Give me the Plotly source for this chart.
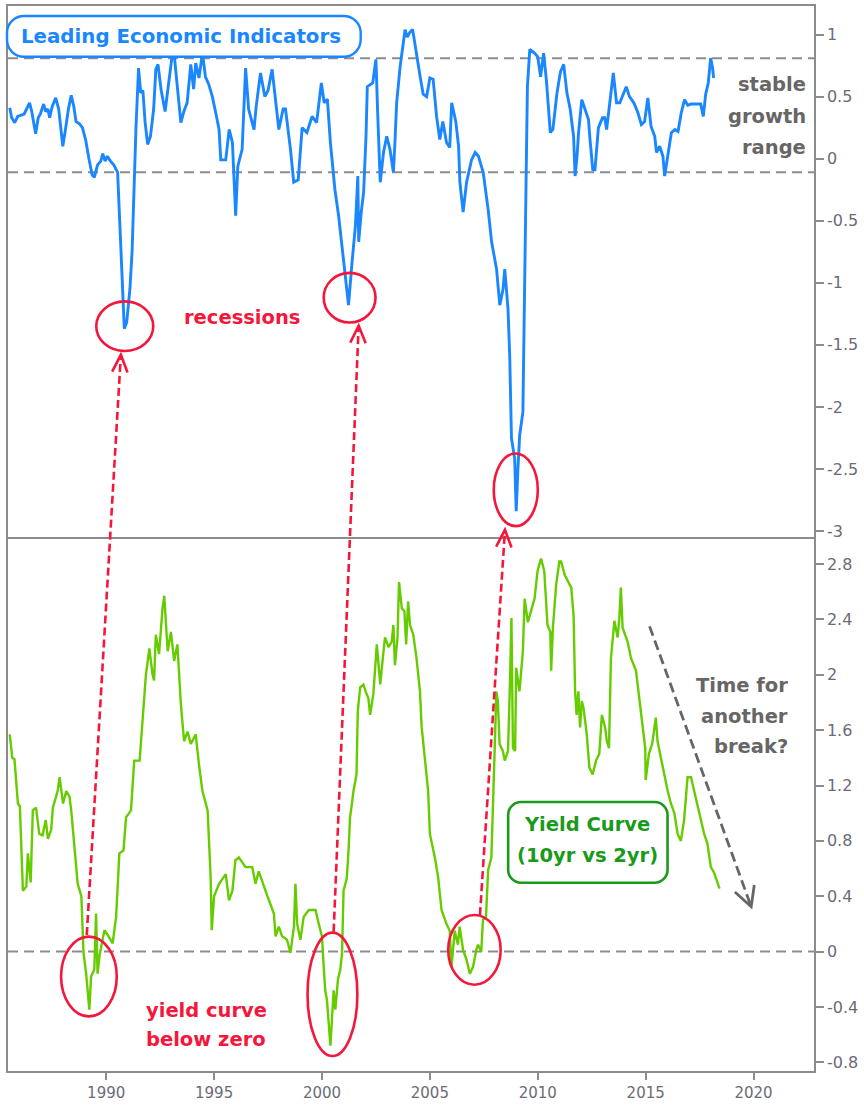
import numpy as np
import plotly.graph_objects as go

# ---------------- data ----------------
lei_years = [1985.53, 1985.62, 1985.76, 1985.9, 1986.2, 1986.45, 1986.55, 1986.73, 1986.85, 1986.95,
             1987.1, 1987.2, 1987.3, 1987.38, 1987.5, 1987.66, 1987.8, 1987.99, 1988.1, 1988.25,
             1988.38, 1988.5, 1988.6, 1988.76, 1988.9, 1989.05, 1989.2, 1989.35, 1989.45, 1989.6,
             1989.75, 1989.84, 1989.95, 1990.05, 1990.2, 1990.35, 1990.53, 1990.6, 1990.69, 1990.8,
             1990.84, 1990.95, 1991.1, 1991.2, 1991.3, 1991.38, 1991.5, 1991.6, 1991.7, 1991.8,
             1991.92, 1992.05, 1992.2, 1992.3, 1992.4, 1992.55, 1992.73, 1992.9, 1993.07, 1993.15,
             1993.3, 1993.46, 1993.6, 1993.75, 1993.92, 1994.05, 1994.15, 1994.3, 1994.46, 1994.6,
             1994.75, 1994.92, 1995.1, 1995.23, 1995.31, 1995.54, 1995.7, 1995.85, 1996.0, 1996.1,
             1996.3, 1996.46, 1996.6, 1996.85, 1996.95, 1997.15, 1997.35, 1997.5, 1997.69, 1997.92,
             1998.0, 1998.2, 1998.31, 1998.54, 1998.69, 1998.9, 1999.08, 1999.3, 1999.54, 1999.75,
             1999.97, 2000.1, 2000.25, 2000.39, 2000.54, 2000.6, 2000.77, 2000.93, 2001.08, 2001.23,
             2001.39, 2001.55, 2001.66, 2001.7, 2001.82, 2001.93, 2002.04, 2002.1, 2002.35, 2002.5,
             2002.58, 2002.7, 2002.85, 2003.0, 2003.15, 2003.31, 2003.38, 2003.46, 2003.62, 2003.85,
             2003.95, 2004.08, 2004.2, 2004.39, 2004.55, 2004.69, 2004.85, 2005.0, 2005.15, 2005.31,
             2005.46, 2005.6, 2005.77, 2005.92, 2006.01, 2006.2, 2006.33, 2006.39, 2006.54, 2006.7,
             2006.93, 2007.1, 2007.25, 2007.47, 2007.7, 2007.86, 2008.09, 2008.24, 2008.39, 2008.47,
             2008.62, 2008.7, 2008.78, 2008.93, 2009.0, 2009.08, 2009.16, 2009.31, 2009.36, 2009.42,
             2009.47, 2009.52, 2009.63, 2009.85, 2010.0, 2010.13, 2010.27, 2010.4, 2010.58, 2010.7,
             2010.89, 2011.05, 2011.2, 2011.35, 2011.5, 2011.66, 2011.73, 2011.82, 2011.89, 2012.04,
             2012.2, 2012.35, 2012.42, 2012.55, 2012.65, 2012.81, 2013.0, 2013.1, 2013.19, 2013.35,
             2013.5, 2013.65, 2013.8, 2014.1, 2014.25, 2014.45, 2014.64, 2014.8, 2014.95, 2015.1,
             2015.25, 2015.42, 2015.5, 2015.65, 2015.8, 2015.88, 2016.03, 2016.19, 2016.35, 2016.5,
             2016.65, 2016.8, 2016.95, 2017.1, 2017.3, 2017.55, 2017.67, 2017.78, 2017.9, 2018.01,
             2018.1, 2018.15]
lei_values = [0.41, 0.33, 0.29, 0.34, 0.36, 0.45, 0.38, 0.20, 0.33, 0.36,
              0.44, 0.38, 0.40, 0.33, 0.42, 0.49, 0.40, 0.10, 0.22, 0.40,
              0.51, 0.42, 0.30, 0.28, 0.25, 0.15, 0.00, -0.13, -0.15, -0.05,
              -0.02, 0.04, -0.02, 0.02, -0.02, -0.05, -0.11, -0.41, -0.73, -1.20,
              -1.37, -1.32, -1.05, -0.75, -0.19, 0.25, 0.73, 0.53, 0.55, 0.30,
              0.115, 0.18, 0.40, 0.72, 0.76, 0.55, 0.38, 0.61, 0.85, 0.84,
              0.55, 0.29, 0.38, 0.45, 0.76, 0.56, 0.77, 0.65, 0.85, 0.66,
              0.60, 0.50, 0.35, 0.235, -0.01, -0.01, 0.235, 0.13, -0.46, -0.06,
              0.075, 0.73, 0.40, 0.235, 0.42, 0.69, 0.50, 0.55, 0.72, 0.37,
              0.235, 0.40, 0.40, 0.075, -0.19, -0.17, 0.25, 0.21, 0.34, 0.29,
              0.61, 0.45, 0.48, 0.13, -0.14, -0.25, -0.46, -0.73, -0.94, -1.18,
              -0.84, -0.54, -0.14, -0.67, -0.43, -0.27, 0.18, 0.58, 0.61, 0.80,
              0.37, -0.19, 0.05, 0.18, 0.075, -0.11, 0.13, 0.45, 0.74, 1.04,
              0.98, 1.02, 1.04, 0.82, 0.66, 0.52, 0.50, 0.65, 0.64, 0.34,
              0.155, 0.30, 0.13, 0.09, 0.45, 0.30, 0.10, -0.19, -0.43, -0.19,
              -0.01, 0.05, 0.02, -0.11, -0.41, -0.67, -0.89, -1.18, -1.05, -0.89,
              -1.21, -1.59, -2.25, -2.42, -2.84, -2.50, -2.23, -2.04, -1.26, -0.62,
              -0.03, 0.58, 0.88, 0.85, 0.82, 0.66, 0.85, 0.63, 0.21, 0.235,
              0.53, 0.70, 0.76, 0.53, 0.40, 0.18, -0.14, 0.02, 0.21, 0.475,
              0.39, 0.315, 0.155, -0.09, -0.09, 0.25, 0.33, 0.33, 0.235, 0.475,
              0.69, 0.45, 0.45, 0.58, 0.50, 0.45, 0.37, 0.275, 0.30, 0.49,
              0.26, 0.18, 0.05, 0.10, 0.02, -0.14, 0.05, 0.21, 0.235, 0.22,
              0.37, 0.475, 0.43, 0.44, 0.44, 0.44, 0.34, 0.52, 0.61, 0.81,
              0.73, 0.65]

yc_years = [1985.53, 1985.65, 1985.75, 1985.91, 1986.0, 1986.14, 1986.3, 1986.37, 1986.5, 1986.6,
            1986.75, 1986.9, 1987.05, 1987.2, 1987.3, 1987.45, 1987.53, 1987.75, 1987.84, 1988.0,
            1988.15, 1988.3, 1988.38, 1988.53, 1988.68, 1988.85, 1988.95, 1989.07, 1989.22, 1989.3,
            1989.45, 1989.53, 1989.6, 1989.7, 1989.92, 1990.07, 1990.3, 1990.46, 1990.61, 1990.8,
            1990.92, 1991.15, 1991.3, 1991.55, 1991.69, 1991.84, 1992.0, 1992.15, 1992.22, 1992.3,
            1992.45, 1992.61, 1992.69, 1992.85, 1993.0, 1993.15, 1993.3, 1993.46, 1993.61, 1993.77,
            1993.92, 1994.15, 1994.3, 1994.46, 1994.7, 1994.84, 1994.89, 1995.0, 1995.23, 1995.54,
            1995.69, 1995.85, 1995.99, 1996.15, 1996.46, 1996.77, 1996.92, 1997.07, 1997.38, 1997.6,
            1997.77, 1997.85, 1998.0, 1998.15, 1998.38, 1998.54, 1998.7, 1998.77, 1998.85, 1999.0,
            1999.15, 1999.39, 1999.7, 1999.85, 2000.0, 2000.08, 2000.15, 2000.23, 2000.31, 2000.39,
            2000.47, 2000.54, 2000.62, 2000.74, 2000.85, 2000.93, 2001.0, 2001.15, 2001.23, 2001.3,
            2001.38, 2001.46, 2001.6, 2001.66, 2001.77, 2001.92, 2002.02, 2002.15, 2002.23, 2002.38,
            2002.54, 2002.7, 2002.85, 2002.92, 2003.08, 2003.23, 2003.31, 2003.38, 2003.5, 2003.57,
            2003.7, 2003.82, 2003.9, 2003.99, 2004.08, 2004.23, 2004.38, 2004.54, 2004.62, 2004.77,
            2004.92, 2005.0, 2005.23, 2005.38, 2005.54, 2005.77, 2005.92, 2006.0, 2006.15, 2006.3,
            2006.38, 2006.54, 2006.7, 2006.85, 2007.0, 2007.15, 2007.23, 2007.38, 2007.46, 2007.6,
            2007.7, 2007.85, 2007.93, 2008.01, 2008.08, 2008.15, 2008.23, 2008.38, 2008.47, 2008.62,
            2008.7, 2008.78, 2008.85, 2008.95, 2009.0, 2009.15, 2009.31, 2009.39, 2009.54, 2009.7,
            2009.85, 2009.99, 2010.15, 2010.3, 2010.45, 2010.58, 2010.62, 2010.7, 2010.85, 2011.0,
            2011.08, 2011.25, 2011.4, 2011.55, 2011.66, 2011.73, 2011.8, 2011.88, 2011.96, 2012.04,
            2012.12, 2012.27, 2012.39, 2012.54, 2012.7, 2012.85, 2012.97, 2013.12, 2013.2, 2013.3,
            2013.39, 2013.55, 2013.7, 2013.78, 2013.85, 2013.93, 2014.16, 2014.32, 2014.55, 2014.7,
            2014.85, 2014.98, 2015.0, 2015.15, 2015.3, 2015.47, 2015.55, 2015.7, 2015.87, 2016.02,
            2016.17, 2016.33, 2016.48, 2016.63, 2016.78, 2016.94, 2017.1, 2017.25, 2017.4, 2017.55,
            2017.71, 2017.86, 2018.02, 2018.17, 2018.32, 2018.42]
yc_values = [1.57, 1.40, 1.39, 1.07, 1.05, 0.44, 0.47, 0.71, 0.50, 1.02,
             1.04, 0.85, 0.84, 0.95, 0.815, 0.88, 1.04, 1.16, 1.26, 1.07,
             1.16, 1.12, 1.02, 0.73, 0.49, 0.40, -0.01, -0.16, -0.42, -0.18,
             -0.13, 0.275, -0.16, -0.02, 0.155, 0.12, 0.06, 0.25, 0.71, 0.73,
             0.97, 1.02, 1.38, 1.38, 1.69, 2.00, 2.19, 2.00, 1.96, 2.29,
             2.15, 2.48, 2.57, 2.17, 2.31, 2.10, 2.22, 1.79, 1.52, 1.59,
             1.50, 1.57, 1.35, 1.16, 1.02, 0.54, 0.155, 0.40, 0.49, 0.56,
             0.37, 0.44, 0.66, 0.68, 0.61, 0.61, 0.49, 0.58, 0.44, 0.35,
             0.275, 0.11, 0.18, 0.11, 0.085, -0.01, 0.18, 0.49, 0.20, 0.085,
             0.25, 0.30, 0.30, 0.20, 0.11, -0.11, -0.28, -0.35, -0.49, -0.68,
             -0.47, -0.28, -0.42, -0.20, -0.13, -0.01, 0.44, 0.53, 0.73, 0.97,
             1.06, 1.16, 1.28, 1.74, 1.91, 1.93, 1.88, 1.83, 1.71, 1.86,
             2.22, 1.93, 2.17, 2.27, 2.20, 2.24, 2.36, 2.07, 2.27, 2.67,
             2.48, 2.46, 2.22, 2.53, 2.36, 2.29, 2.12, 1.88, 1.62, 1.40,
             1.16, 0.85, 0.68, 0.54, 0.30, 0.20, 0.15, -0.11, 0.15, 0.05,
             0.18, 0.01, -0.06, -0.16, -0.11, 0.01, 0.05, 0.00, 0.23, 0.25,
             0.59, 0.68, 1.02, 1.50, 1.88, 1.81, 1.50, 1.45, 1.38, 1.45,
             1.88, 2.41, 1.47, 1.45, 2.05, 1.88, 2.17, 2.55, 2.38, 2.46,
             2.55, 2.75, 2.84, 2.75, 2.36, 2.31, 2.03, 2.34, 2.65, 2.82,
             2.82, 2.72, 2.67, 2.63, 2.43, 1.88, 1.71, 1.88, 1.62, 1.81,
             1.76, 1.57, 1.33, 1.28, 1.38, 1.43, 1.71, 1.62, 1.52, 1.47,
             2.12, 2.39, 2.27, 2.41, 2.63, 2.34, 2.24, 2.12, 2.03, 1.83,
             1.67, 1.47, 1.24, 1.43, 1.50, 1.69, 1.52, 1.40, 1.26, 1.16,
             1.07, 1.00, 0.85, 0.80, 0.95, 1.26, 1.26, 1.16, 1.04, 0.95,
             0.85, 0.78, 0.61, 0.57, 0.49, 0.455]

x_tick_vals = [1990, 1995, 2000, 2005, 2010, 2015, 2020]
x_tick_text = ["1990", "1995", "2000", "2005", "2010", "2015", "2020"]
top_tick_vals = [-3, -2.5, -2, -1.5, -1, -0.5, 0, 0.5, 1]
top_tick_text = ["-3", "-2.5", "-2", "-1.5", "-1", "-0.5", "0", "0.5", "1"]
bot_tick_vals = [-0.8, -0.4, 0, 0.4, 0.8, 1.2, 1.6, 2.0, 2.4, 2.8]
bot_tick_text = ["-0.8", "-0.4", "0", "0.4", "0.8", "1.2", "1.6", "2", "2.4", "2.8"]
stable_band = [0.81, -0.11]   # stable growth range bounds (LEI)
yc_zero = 0.0

# recession troughs (LEI) and inversions (yield curve): (year0, year1, v0, v1)
lei_circles = [(1989.54, 1992.18, -1.15, -1.55), (2000.08, 2002.48, -0.92, -1.32),
               (2007.96, 2010.0, -2.375, -2.96)]
yc_circles = [(1987.91, 1990.49, 0.108, -0.468), (1999.33, 2001.64, 0.137, -0.755),
              (2005.85, 2008.28, 0.264, -0.24)]
# arrows from inversion (year, yc) to recession (year, lei)
red_arrows = [((1989.10, 0.12), (1990.68, -1.58)),
              ((2000.54, 0.144), (2001.70, -1.345)),
              ((2007.32, 0.264), (2008.48, -2.99))]
gray_arrow = ((2015.18, 2.35), (2019.89, 0.324))

# ---------------- layout geometry ----------------
W, H = 864, 1108
ML, MR, MT, MB = 8, 47, 6, 33
PW, PH = W - ML - MR, H - MT - MB
XR = [1985.45, 2022.8]
YT = [-3.06, 1.23]
YB = [-0.863, 2.985]

BLUE = "#1a86ff"
GREEN = "#66cc00"
RED = "#f5173b"
GRAY = "#666666"
TICKGRAY = "#6b6b78"
AXGRAY = "#8c8c8c"
DGREEN = "#1a9a1a"


def xp(year):
    return (year - XR[0]) / (XR[1] - XR[0])


def ytp(v):
    return 0.5 + 0.5 * (v - YT[0]) / (YT[1] - YT[0])


def ybp(v):
    return 0.5 * (v - YB[0]) / (YB[1] - YB[0])


def to_px(x, y):
    return ML + x * PW, MT + (1 - y) * PH


def to_paper(px, py):
    return (px - ML) / PW, (MT + PH - py) / PH


fig = go.Figure()
fig.add_trace(go.Scatter(x=lei_years, y=lei_values, mode="lines", xaxis="x2", yaxis="y2",
                         line=dict(color=BLUE, width=2.9), hoverinfo="skip"))
fig.add_trace(go.Scatter(x=yc_years, y=yc_values, mode="lines", xaxis="x", yaxis="y",
                         line=dict(color=GREEN, width=2.4), hoverinfo="skip"))
# last-value diamonds on the right axis
fig.add_trace(go.Scatter(x=[XR[1] + 0.37], y=[lei_values[-1]], mode="markers", xaxis="x2", yaxis="y2",
                         marker=dict(symbol="diamond", size=11, color=BLUE), cliponaxis=False,
                         hoverinfo="skip"))
fig.add_trace(go.Scatter(x=[XR[1] + 0.37], y=[yc_values[-1]], mode="markers", xaxis="x", yaxis="y",
                         marker=dict(symbol="diamond", size=11, color=GREEN), cliponaxis=False,
                         hoverinfo="skip"))

shapes = []
for v in stable_band:
    shapes.append(dict(type="line", xref="paper", yref="y2", x0=0, x1=1, y0=v, y1=v,
                       line=dict(color=AXGRAY, width=2, dash="10px,6px"), layer="below"))
shapes.append(dict(type="line", xref="paper", yref="y", x0=0, x1=1, y0=yc_zero, y1=yc_zero,
                   line=dict(color=AXGRAY, width=2, dash="10px,6px"), layer="below"))

for (a, b, c, d) in lei_circles:
    shapes.append(dict(type="circle", xref="x2", yref="y2", x0=a, x1=b, y0=c, y1=d,
                       line=dict(color=RED, width=2.6)))
for (a, b, c, d) in yc_circles:
    shapes.append(dict(type="circle", xref="x", yref="y", x0=a, x1=b, y0=c, y1=d,
                       line=dict(color=RED, width=2.6)))


def chevron(sx, sy, tx, ty, length, ang):
    d = np.array([tx - sx, ty - sy], dtype=float)
    d /= np.linalg.norm(d)
    pts = []
    for s in (-1, 1):
        t = np.radians(ang * s)
        r = np.array([d[0] * np.cos(t) - d[1] * np.sin(t), d[0] * np.sin(t) + d[1] * np.cos(t)])
        pts.append((tx - length * r[0], ty - length * r[1]))
    p1 = to_paper(*pts[0])
    p2 = to_paper(*pts[1])
    pt = to_paper(tx, ty)
    return f"M {p1[0]},{p1[1]} L {pt[0]},{pt[1]} L {p2[0]},{p2[1]}"


for (s, e) in red_arrows:
    x0, y0 = xp(s[0]), ybp(s[1])
    x1, y1 = xp(e[0]), ytp(e[1])
    shapes.append(dict(type="line", xref="paper", yref="paper", x0=x0, y0=y0, x1=x1, y1=y1,
                       line=dict(color=RED, width=2.6, dash="8px,4px")))
    sx, sy = to_px(x0, y0)
    tx, ty = to_px(x1, y1)
    shapes.append(dict(type="path", xref="paper", yref="paper", path=chevron(sx, sy, tx, ty, 19, 24),
                       line=dict(color=RED, width=2.6)))

gx0, gy0 = xp(gray_arrow[0][0]), ybp(gray_arrow[0][1])
gx1, gy1 = xp(gray_arrow[1][0]), ybp(gray_arrow[1][1])
shapes.append(dict(type="line", xref="paper", yref="paper", x0=gx0, y0=gy0, x1=gx1, y1=gy1,
                   line=dict(color=GRAY, width=2.8, dash="10px,5px")))
sx, sy = to_px(gx0, gy0)
tx, ty = to_px(gx1, gy1)
shapes.append(dict(type="path", xref="paper", yref="paper", path=chevron(sx, sy, tx, ty, 22, 28),
                   line=dict(color=GRAY, width=2.8)))


def rounded_box(px0, py0, px1, py1, r):
    a, top = to_paper(px0, py0)
    b, bot = to_paper(px1, py1)
    rx, ry = r / PW, r / PH
    k = 0.45
    return (f"M {a+rx},{top} L {b-rx},{top} C {b-rx*k},{top} {b},{top-ry*k} {b},{top-ry} "
            f"L {b},{bot+ry} C {b},{bot+ry*k} {b-rx*k},{bot} {b-rx},{bot} "
            f"L {a+rx},{bot} C {a+rx*k},{bot} {a},{bot+ry*k} {a},{bot+ry} "
            f"L {a},{top-ry} C {a},{top-ry*k} {a+rx*k},{top} {a+rx},{top} Z")


shapes.append(dict(type="path", xref="paper", yref="paper", path=rounded_box(7, 16, 362, 57, 17),
                   line=dict(color=BLUE, width=2.4), fillcolor="white", layer="above"))
shapes.append(dict(type="path", xref="paper", yref="paper", path=rounded_box(510, 805, 670, 886, 13),
                   line=dict(color=DGREEN, width=2.6), fillcolor="white", layer="above"))

FONT = "DejaVu Sans"


def ann(text, px, py, color, size=19, xanchor="center"):
    x, y = to_paper(px, py)
    return dict(text=text, x=x, y=y, xref="paper", yref="paper", showarrow=False,
                xanchor=xanchor, yanchor="middle",
                font=dict(family=FONT, size=size, color=color, weight="bold"))


annotations = [
    ann("Leading Economic Indicators", 182, 37, BLUE, 19.8),
    ann("recessions", 243, 319, RED, 19.5),
    ann("yield curve", 207, 1014, RED, 19.5),
    ann("below zero", 207, 1043, RED, 19.5),
    ann("stable", 811, 85, GRAY, 19.5, "right"),
    ann("growth", 811, 117, GRAY, 19.5, "right"),
    ann("range", 811, 148, GRAY, 19.5, "right"),
    ann("Time for", 793, 688, GRAY, 19.5, "right"),
    ann("another", 793, 719, GRAY, 19.5, "right"),
    ann("break?", 793, 749, GRAY, 19.5, "right"),
    ann("Yield Curve", 589, 828, DGREEN, 19.5),
    ann("(10yr vs 2yr)", 590, 859, DGREEN, 19.5),
]

tickfont = dict(family=FONT, size=16, color=TICKGRAY)
axis_common = dict(showgrid=False, zeroline=False, showline=True, linecolor=AXGRAY, linewidth=1.5)

fig.update_layout(
    width=W, height=H,
    margin=dict(l=ML, r=MR, t=MT, b=MB, pad=0),
    paper_bgcolor="white", plot_bgcolor="white",
    showlegend=False,
    xaxis=dict(domain=[0, 1], anchor="y", range=XR, tickmode="array", tickvals=x_tick_vals,
               ticktext=x_tick_text, ticks="outside", ticklen=7, tickcolor=AXGRAY, tickwidth=1.5,
               tickfont=dict(family=FONT, size=15, color=TICKGRAY), mirror=True, **axis_common),
    xaxis2=dict(domain=[0, 1], anchor="y2", side="top", range=XR, matches="x", showticklabels=False,
                ticks="", mirror=False, **axis_common),
    yaxis=dict(domain=[0, 0.5], anchor="x", side="right", range=YB, tickmode="array",
               tickvals=bot_tick_vals, ticktext=bot_tick_text, ticks="outside", ticklen=8,
               tickcolor=AXGRAY, tickwidth=1.5, tickfont=tickfont, mirror=True, **axis_common),
    yaxis2=dict(domain=[0.5, 1], anchor="x2", side="right", range=YT, tickmode="array",
                tickvals=top_tick_vals, ticktext=top_tick_text, ticks="outside", ticklen=8,
                tickcolor=AXGRAY, tickwidth=1.5, tickfont=tickfont, mirror=True, **axis_common),
    shapes=shapes,
    annotations=annotations,
)

fig.write_html("out.html", config={"displayModeBar": False},
               post_script="document.body.style.margin='0';document.body.style.overflow='hidden';")
